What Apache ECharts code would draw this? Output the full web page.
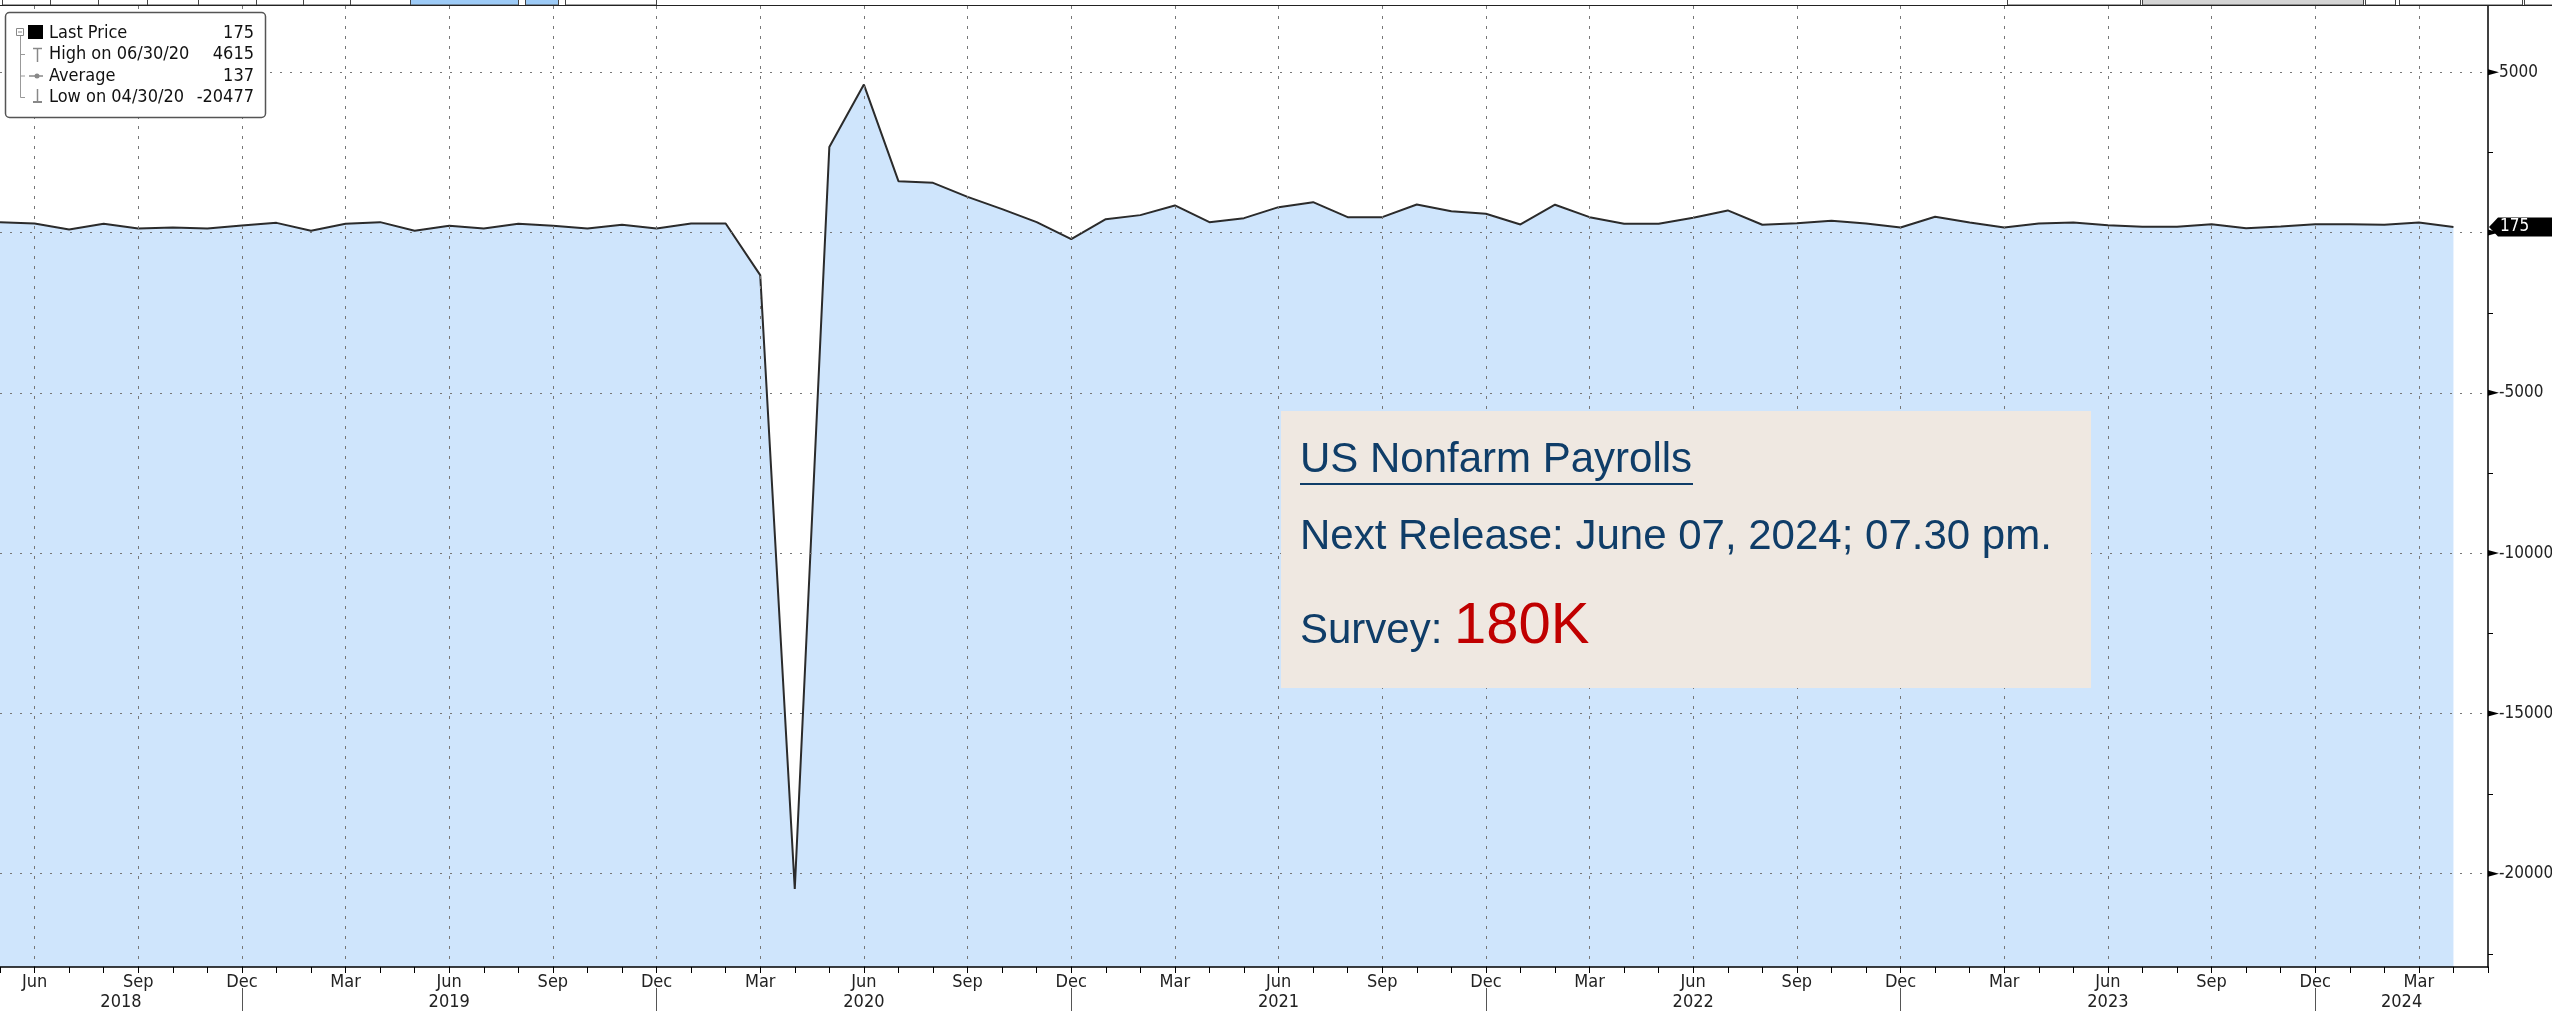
<!DOCTYPE html>
<html>
<head>
<meta charset="utf-8">
<script src="https://cdn.jsdelivr.net/npm/echarts@6/dist/echarts.min.js"></script>
<style>
html,body{margin:0;padding:0;background:#fff;overflow:hidden;}
#chart{width:2552px;height:1011px;}
</style>
</head>
<body>
<div id="chart"></div>
<script>
// ---- data ----
var months = [
  '2018-05','2018-06','2018-07','2018-08','2018-09','2018-10','2018-11','2018-12',
  '2019-01','2019-02','2019-03','2019-04','2019-05','2019-06','2019-07','2019-08','2019-09','2019-10','2019-11','2019-12',
  '2020-01','2020-02','2020-03','2020-04','2020-05','2020-06','2020-07','2020-08','2020-09','2020-10','2020-11','2020-12',
  '2021-01','2021-02','2021-03','2021-04','2021-05','2021-06','2021-07','2021-08','2021-09','2021-10','2021-11','2021-12',
  '2022-01','2022-02','2022-03','2022-04','2022-05','2022-06','2022-07','2022-08','2022-09','2022-10','2022-11','2022-12',
  '2023-01','2023-02','2023-03','2023-04','2023-05','2023-06','2023-07','2023-08','2023-09','2023-10','2023-11','2023-12',
  '2024-01','2024-02','2024-03','2024-04','2024-05'
];
var payrolls = [
  323, 282, 95, 270, 127, 158, 127, 220,
  301, 52, 270, 323, 52, 208, 127, 270, 208, 127, 239, 127,
  282, 282, -1330, -20477, 2670, 4615, 1600, 1550, 1110, 730, 323, -207,
  417, 542, 844, 323, 448, 791, 947, 479, 479, 875, 666, 585,
  251, 866, 479, 273, 273, 460, 688, 242, 292, 364, 280, 155,
  489, 311, 155, 280, 311, 230, 177, 177, 261, 136, 186, 261,
  261, 239, 311, 175
];
var monthNames = ['Jan','Feb','Mar','Apr','May','Jun','Jul','Aug','Sep','Oct','Nov','Dec'];
var yearLabels = ['2018','2019','2020','2021','2022','2023','2024'];
var yearLabelPos = [3.5, 13, 25, 37, 49, 61, 69.5];
var yearSeparators = [7, 19, 31, 43, 55, 67];
var yMajorTicks = [-20000, -15000, -10000, -5000, 0, 5000];
var yLabelValues = [-20000, -15000, -10000, -5000, 5000];
var yMinorTicks = [-22500, -17500, -12500, -7500, -2500, 2500];
var legendLabels = ['Last Price', 'High on 06/30/20', 'Average', 'Low on 04/30/20'];
var averageValue = 137;
var noteTitle = 'US Nonfarm Payrolls';
var noteRelease = 'Next Release: June 07, 2024; 07.30 pm.';
var noteSurveyLabel = 'Survey:';
var noteSurveyValue = '180K';

var lastValue = payrolls[payrolls.length - 1];
var highValue = Math.max.apply(null, payrolls);
var lowValue = Math.min.apply(null, payrolls);
var legendValues = [lastValue, highValue, averageValue, lowValue];

var AX_FONT = '"DejaVu Sans Condensed", "DejaVu Sans", sans-serif';
var NOTE_FONT = '"Liberation Sans", Arial, sans-serif';
var navy = '#0f3d68';

var chart = echarts.init(document.getElementById('chart'), null, {renderer:'canvas'});
var option = {
  animation: false,
  backgroundColor: '#ffffff',
  grid: {left: 0, right: 64, top: 6, bottom: 44, containLabel: false, outerBoundsMode: 'none'},
  xAxis: [{
    type: 'category',
    data: months,
    boundaryGap: false,
    z: 5,
    axisLine: {onZero: false, lineStyle: {color: '#000', width: 1.5}},
    axisTick: {show: true, interval: 0, length: 6, lineStyle: {color: '#000', width: 1}},
    axisLabel: {
      interval: function(i){ return i % 3 === 1; },
      formatter: function(v){ return monthNames[parseInt(v.slice(5), 10) - 1]; },
      margin: 6, fontSize: 18, color: '#222', fontFamily: AX_FONT
    },
    splitLine: {show: true, interval: function(i){ return i % 3 === 1; },
      lineStyle: {type: [3, 7], color: '#777', width: 1}}
  }, {
    type: 'value', min: 0, max: 72, position: 'bottom', offset: 21,
    axisLine: {show: false, onZero: false},
    axisTick: {show: true, customValues: yearSeparators, length: 23, lineStyle: {color: '#555', width: 1}},
    axisLabel: {customValues: yearLabelPos, margin: 5, fontSize: 18, color: '#222', fontFamily: AX_FONT,
      formatter: function(v){ var k = yearLabelPos.indexOf(v); return k >= 0 ? yearLabels[k] : ''; }},
    splitLine: {show: false}
  }],
  yAxis: [{
    type: 'value', position: 'right', min: -22910, max: 7065,
    z: 5,
    axisLine: {show: true, onZero: false, lineStyle: {color: '#000', width: 1.5}},
    axisTick: {show: false, customValues: yMajorTicks},
    axisLabel: {customValues: yLabelValues, margin: 11, fontSize: 17, color: '#222', fontFamily: AX_FONT,
      formatter: function(v){ return String(v); }},
    splitLine: {show: true, lineStyle: {type: [2, 8], color: '#777', width: 1}}
  }],
  series: [{
    type: 'line',
    xAxisIndex: 0, yAxisIndex: 0,
    data: payrolls,
    symbol: 'none',
    lineStyle: {color: '#2b2b2b', width: 2},
    areaStyle: {color: '#cfe5fc', opacity: 1, origin: 'start'},
    z: 3
  }]
};
chart.setOption(option);

// ---- graphics: toolbar, legend box, note box, axis markers, last-price tag ----
var graphics = [];
var gid = 0;
function add(el){ el.id = 'g' + (gid++); el.silent = true; if (el.z == null) el.z = 100; graphics.push(el); }

var toolbarButtons = [
  [2,48,'#fff'],[50,48,'#fff'],[98,49,'#fff'],[147,51,'#fff'],[198,58,'#fff'],[256,47,'#fff'],
  [303,47,'#fff'],[350,60,'#fff'],[410,108,'#9dcbf7'],[525,33,'#9dcbf7'],[565,91,'#fff'],
  [2007,133,'#fff'],[2142,221,'#d4d4d4'],[2365,30,'#fff'],[2399,123,'#fff'],[2524,28,'#fff']
];
toolbarButtons.forEach(function(b){
  add({type:'rect', shape:{x:b[0]+0.5, y:-5, width:b[1], height:10}, style:{fill:b[2], stroke:'#444', lineWidth:1}});
});
add({type:'line', z:101, shape:{x1:0, y1:5.5, x2:2552, y2:5.5}, style:{stroke:'#222', lineWidth:1}});

// note box
add({type:'rect', z:105, shape:{x:1281, y:411, width:810, height:277}, style:{fill:'#efe8e1'}});
add({type:'text', z:106, style:{x:1300, y:460, text:noteTitle, fill:navy, font:'42px ' + NOTE_FONT, align:'left', verticalAlign:'middle'}});
add({type:'line', z:106, shape:{x1:1300, y1:484, x2:1693, y2:484}, style:{stroke:navy, lineWidth:2}});
add({type:'text', z:106, style:{x:1300, y:537, text:noteRelease, fill:navy, font:'42px ' + NOTE_FONT, align:'left', verticalAlign:'middle'}});
add({type:'text', z:106, style:{x:1300, y:631, text:noteSurveyLabel, fill:navy, font:'42px ' + NOTE_FONT, align:'left', verticalAlign:'middle'}});
add({type:'text', z:106, style:{x:1454, y:627, text:noteSurveyValue, fill:'#c00000', font:'58px ' + NOTE_FONT, align:'left', verticalAlign:'middle'}});

// legend box
add({type:'rect', z:110, shape:{x:5.5, y:12.5, width:260, height:105, r:4}, style:{fill:'#fff', stroke:'#555', lineWidth:1.5}});
var rowY = [33, 54.5, 76, 97.5];
add({type:'rect', z:111, shape:{x:16.5, y:28.5, width:7, height:7}, style:{fill:'#fff', stroke:'#888', lineWidth:1}});
add({type:'line', z:111, shape:{x1:18, y1:32, x2:22, y2:32}, style:{stroke:'#888', lineWidth:1}});
add({type:'line', z:111, shape:{x1:20.5, y1:36, x2:20.5, y2:97.5}, style:{stroke:'#999', lineWidth:1}});
[54.5, 76, 97.5].forEach(function(y){
  add({type:'line', z:111, shape:{x1:20.5, y1:y, x2:25, y2:y}, style:{stroke:'#999', lineWidth:1}});
});
add({type:'rect', z:111, shape:{x:28, y:25, width:15, height:14}, style:{fill:'#000'}});
add({type:'line', z:111, shape:{x1:33, y1:48.5, x2:42, y2:48.5}, style:{stroke:'#888', lineWidth:1.5}});
add({type:'line', z:111, shape:{x1:37.5, y1:48.5, x2:37.5, y2:62}, style:{stroke:'#888', lineWidth:1.5}});
add({type:'line', z:111, shape:{x1:29, y1:76, x2:43, y2:76}, style:{stroke:'#888', lineWidth:1.5}});
add({type:'circle', z:111, shape:{cx:37, cy:76, r:2.5}, style:{fill:'#888'}});
add({type:'line', z:111, shape:{x1:37.5, y1:89, x2:37.5, y2:102}, style:{stroke:'#888', lineWidth:1.5}});
add({type:'line', z:111, shape:{x1:33, y1:102, x2:42, y2:102}, style:{stroke:'#888', lineWidth:2}});
legendLabels.forEach(function(t, i){
  add({type:'text', z:111, style:{x:49, y:rowY[i], text:t, fill:'#111', font:'18px ' + AX_FONT, align:'left', verticalAlign:'middle'}});
  add({type:'text', z:111, style:{x:254, y:rowY[i], text:String(legendValues[i]), fill:'#111', font:'18px ' + AX_FONT, align:'right', verticalAlign:'middle'}});
});

// major tick wedges and minor ticks on the right axis, placed through the axis scale
var axisX = chart.convertToPixel({xAxisIndex: 0}, months[months.length - 1]);
yMajorTicks.forEach(function(v){
  var py = chart.convertToPixel({yAxisIndex: 0}, v);
  add({type:'polygon', z:115, shape:{points:[[axisX, py - 3], [axisX + 11, py], [axisX, py + 3]]}, style:{fill:'#000'}});
});
yMinorTicks.forEach(function(v){
  var py = Math.round(chart.convertToPixel({yAxisIndex: 0}, v)) + 0.5;
  add({type:'line', z:115, shape:{x1:axisX, y1:py, x2:axisX + 5, y2:py}, style:{stroke:'#000', lineWidth:1}});
});

// last price tag
var tagY = chart.convertToPixel({yAxisIndex: 0}, lastValue);
add({type:'polygon', z:120, shape:{points:[[axisX + 1, tagY], [axisX + 10, tagY - 9.5], [2552, tagY - 9.5], [2552, tagY + 9.5], [axisX + 10, tagY + 9.5]]}, style:{fill:'#000'}});
add({type:'text', z:121, style:{x:axisX + 12, y:tagY, text:String(lastValue), fill:'#fff', font:'17px ' + AX_FONT, align:'left', verticalAlign:'middle'}});

chart.setOption({graphic: graphics});
</script>
</body>
</html>
